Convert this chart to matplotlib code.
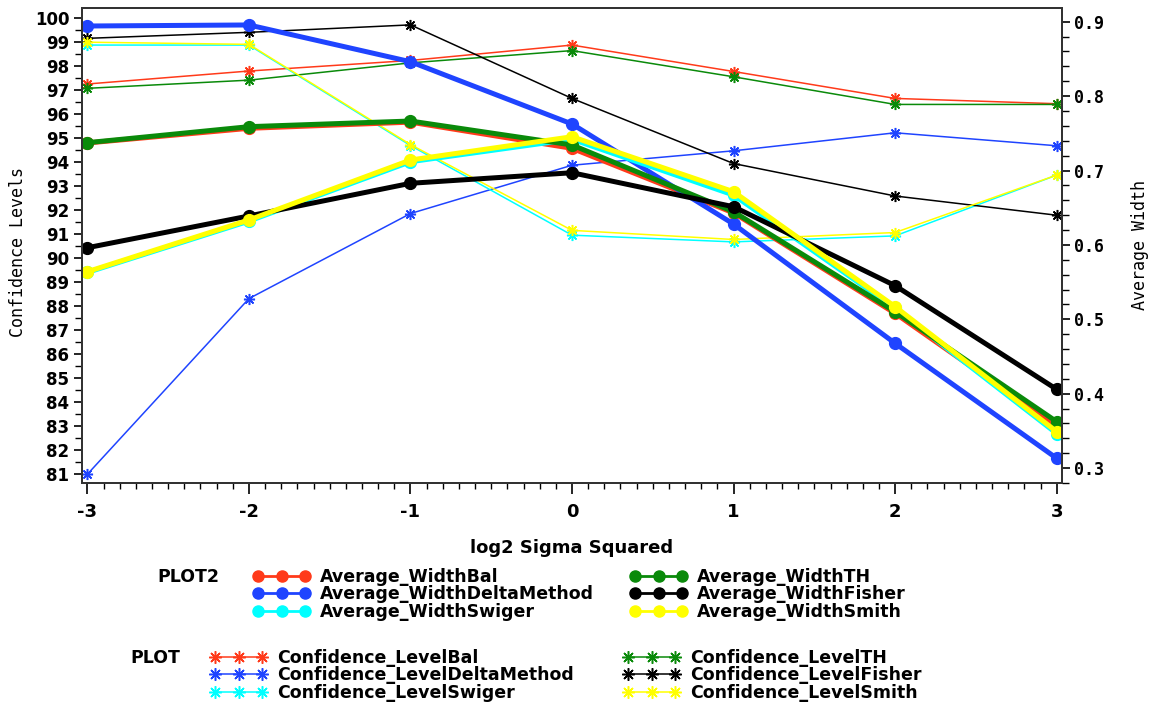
import matplotlib
matplotlib.use("Agg")
import matplotlib.pyplot as plt
from matplotlib.lines import Line2D
from matplotlib.ticker import MultipleLocator

# ---------------- data ----------------
x_vals = [-3, -2, -1, 0, 1, 2, 3]

conf_bal = [97.24, 97.78, 98.22, 98.86, 97.76, 96.64, 96.42]
conf_delta = [81.0, 88.31, 91.85, 93.86, 94.46, 95.21, 94.67]
conf_swiger = [98.86, 98.86, 94.68, 90.95, 90.67, 90.92, 93.45]
conf_th = [97.06, 97.40, 98.12, 98.63, 97.54, 96.39, 96.39]
conf_fisher = [99.14, 99.39, 99.70, 96.64, 93.93, 92.58, 91.78]
conf_smith = [98.98, 98.89, 94.72, 91.15, 90.77, 91.06, 93.45]

width_bal = [0.737, 0.7567, 0.765, 0.7298, 0.643, 0.508, 0.356]
width_delta = [0.8942, 0.8956, 0.8462, 0.7625, 0.628, 0.4677, 0.3132]
width_swiger = [0.5630, 0.6320, 0.7118, 0.742, 0.667, 0.5148, 0.3465]
width_th = [0.7374, 0.7589, 0.7665, 0.7343, 0.6446, 0.5102, 0.3624]
width_fisher = [0.5962, 0.6389, 0.6828, 0.697, 0.6513, 0.5452, 0.4059]
width_smith = [0.5640, 0.6335, 0.7141, 0.7454, 0.6715, 0.5170, 0.3490]

methods = ["Bal", "DeltaMethod", "Swiger", "TH", "Fisher", "Smith"]
colors = ["#FF3A1A", "#1F44FF", "#00FFFF", "#0A8A0A", "#000000", "#FFFF00"]
conf_series = [conf_bal, conf_delta, conf_swiger, conf_th, conf_fisher, conf_smith]
width_series = [width_bal, width_delta, width_swiger, width_th, width_fisher, width_smith]

# ---------------- fonts ----------------
narrow = ["Liberation Sans Narrow", "DejaVu Sans"]
mono = ["DejaVu Sans Mono"]

W, H = 1151, 705
fig = plt.figure(figsize=(W / 100, H / 100), dpi=100)
ax = fig.add_axes([81.7 / W, 1 - 483.3 / H, (1061.7 - 81.7) / W, (483.3 - 8.3) / H])
ax2 = ax.twinx()

star = (8, 2, 0)
for vals, c in zip(conf_series, colors):
    ax.plot(x_vals, vals, color=c, lw=1.1, marker=star, ms=8, mew=1.1, mec=c)
for vals, c in zip(width_series, colors):
    ax2.plot(x_vals, vals, color=c, lw=3.6, marker="o", ms=8.5, mec=c, mfc=c)

ax.set_xlim(-3.035, 3.031)
ax.set_ylim(80.625, 100.39)
ax2.set_ylim(0.2796, 0.918)

ax.xaxis.set_major_locator(MultipleLocator(1))
ax.xaxis.set_minor_locator(MultipleLocator(0.1))
ax.yaxis.set_major_locator(MultipleLocator(1))
ax.yaxis.set_minor_locator(MultipleLocator(0.5))
ax2.yaxis.set_major_locator(MultipleLocator(0.1))
ax2.yaxis.set_minor_locator(MultipleLocator(0.02))

for spine in list(ax.spines.values()) + list(ax2.spines.values()):
    spine.set_linewidth(1.4)
    spine.set_color("#333333")

ax.tick_params(axis="x", which="major", direction="out", length=8, width=1.2, pad=6)
ax.tick_params(axis="x", which="minor", direction="out", length=4.5, width=1.0)
ax.tick_params(axis="y", which="major", direction="out", length=6, width=1.2, pad=3)
ax.tick_params(axis="y", which="minor", direction="out", length=5, width=1.0)
ax2.tick_params(axis="y", which="major", direction="out", length=6, width=1.2, pad=3)
ax2.tick_params(axis="y", which="minor", direction="out", length=5, width=1.0)

ax.set_xticks(x_vals)
ax.set_xticklabels([str(v) for v in x_vals], fontfamily=narrow, fontweight="bold", fontsize=13)
left_ticks = list(range(81, 101))
ax.set_yticks(left_ticks)
ax.set_yticklabels([str(v) for v in left_ticks], fontfamily=["DejaVu Sans"], fontweight="bold", fontsize=12)
right_ticks = [0.3, 0.4, 0.5, 0.6, 0.7, 0.8, 0.9]
ax2.set_yticks(right_ticks)
ax2.set_yticklabels([f"{v:.1f}" for v in right_ticks], fontfamily=mono, fontweight="bold", fontsize=12)

ax.set_xlabel("log2 Sigma Squared", fontfamily=narrow, fontweight="bold", fontsize=13, labelpad=13)
fig.text(18 / W, 1 - 252 / H, "Confidence Levels", rotation=90, ha="center", va="center",
         fontfamily=mono, fontsize=12)
fig.text(1140 / W, 1 - 245 / H, "Average Width", rotation=90, ha="center", va="center",
         fontfamily=mono, fontsize=12)

# ---------------- legends ----------------
leg_font = {"family": narrow, "weight": "bold", "size": 12.5}


def make_legend(handles, labels, x_px, y_px):
    lg = fig.legend(handles, labels, loc="upper left", bbox_to_anchor=(x_px / W, 1 - y_px / H),
                    frameon=False, prop=leg_font, numpoints=3, handlelength=3.3,
                    handletextpad=0.55, labelspacing=-0.04, borderpad=0, borderaxespad=0)
    return lg


def circ_handle(c):
    return Line2D([], [], color=c, lw=2.0, marker="o", ms=8, mec=c, mfc=c)


def star_handle(c):
    return Line2D([], [], color=c, lw=1.1, marker=star, ms=9, mew=1.1, mec=c)


fig.text(157 / W, 1 - 577 / H, "PLOT2", fontfamily=narrow, fontweight="bold", fontsize=12.5, va="center")
fig.text(130 / W, 1 - 658 / H, "PLOT", fontfamily=narrow, fontweight="bold", fontsize=12.5, va="center")

make_legend([circ_handle(c) for c in colors[:3]], ["Average_Width" + m for m in methods[:3]], 253, 568)
make_legend([circ_handle(c) for c in colors[3:]], ["Average_Width" + m for m in methods[3:]], 630, 568)
make_legend([star_handle(c) for c in colors[:3]], ["Confidence_Level" + m for m in methods[:3]], 210, 649)
make_legend([star_handle(c) for c in colors[3:]], ["Confidence_Level" + m for m in methods[3:]], 623, 649)

fig.savefig("out.png", dpi=100)
